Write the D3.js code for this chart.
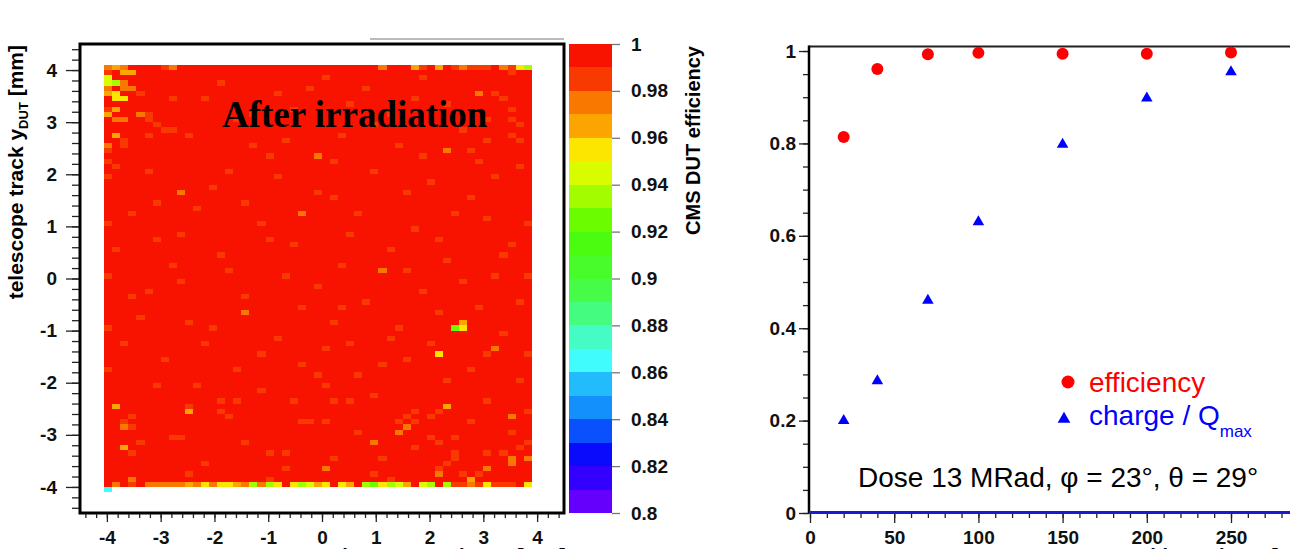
<!DOCTYPE html>
<html>
<head>
<meta charset="utf-8">
<script src="https://cdn.jsdelivr.net/npm/d3@7"></script>
<style>
body { margin: 0; background: #fff; }
svg text { font-family: 'Liberation Sans', Arial, sans-serif; }
</style>
</head>
<body>
<svg id="chart" width="1290" height="549"></svg>
<script>
// + -- Heat map binning (mm) ------------------------------------------------ +
const xBinLo = -4.05
const xBinW = 0.15
const xBinN = 53
const yBinLo = -4.0
const yBinW = 0.1
const yBinN = 81
const effDefault = 0.997

// cells that are not full red: [ix, iy, efficiency]
const effCells = [
  // top left corner
  [0, 80, 0.975], [1, 80, 0.965], [2, 80, 0.975], [7, 80, 0.985], [8, 80, 0.975],
  [0, 79, 0.985], [2, 79, 0.965], [3, 79, 0.965],
  [0, 78, 0.945], [0, 77, 0.945], [1, 77, 0.935], [2, 77, 0.975],
  [0, 76, 0.975], [2, 76, 0.975], [3, 76, 0.975],
  [0, 75, 0.965], [1, 75, 0.955], [4, 75, 0.985],
  [1, 74, 0.955], [2, 74, 0.955], [8, 74, 0.985],
  [0, 72, 0.985], [1, 72, 0.965], [0, 71, 0.965], [4, 71, 0.975], [5, 71, 0.985],
  [1, 70, 0.975], [2, 70, 0.975], [5, 70, 0.985], [6, 69, 0.985], [7, 68, 0.985], [8, 68, 0.985],
  [1, 67, 0.965], [5, 67, 0.985], [2, 66, 0.985], [0, 65, 0.975], [2, 65, 0.985],
  [0, 64, 0.985], [0, 62, 0.985], [1, 61, 0.985], [0, 59, 0.985],
  // top right corner
  [34, 80, 0.975], [38, 80, 0.965], [39, 80, 0.985], [41, 80, 0.965], [43, 80, 0.985],
  [44, 80, 0.975], [45, 80, 0.985], [46, 80, 0.985], [47, 80, 0.985], [49, 80, 0.975],
  [50, 80, 0.985], [51, 80, 0.955], [52, 80, 0.935],
  [50, 79, 0.985], [46, 75, 0.975], [48, 75, 0.985], [49, 74, 0.985], [38, 74, 0.985],
  [50, 72, 0.985], [50, 70, 0.985], [51, 69, 0.985], [50, 67, 0.985], [47, 66, 0.985],
  [51, 66, 0.985], [42, 64, 0.975], [46, 62, 0.985], [51, 61, 0.985],
  // bottom left
  [1, 15, 0.965], [10, 15, 0.985], [10, 14, 0.965], [14, 16, 0.985], [16, 16, 0.985],
  [23, 16, 0.985], [3, 13, 0.985], [15, 13, 0.985], [2, 12, 0.985], [2, 11, 0.975],
  [3, 11, 0.985], [8, 9, 0.985], [9, 9, 0.985], [4, 8, 0.985], [2, 7, 0.965],
  [3, 6, 0.985], [20, 6, 0.985], [22, 6, 0.985], [10, 2, 0.985], [3, 1, 0.975], [20, 1, 0.985],
  [1, 0, 0.975], [3, 0, 0.985], [5, 0, 0.975], [6, 0, 0.975], [7, 0, 0.975], [8, 0, 0.975],
  [9, 0, 0.975], [10, 0, 0.965], [11, 0, 0.975], [12, 0, 0.955], [13, 0, 0.975],
  [14, 0, 0.955], [15, 0, 0.955], [16, 0, 0.965], [17, 0, 0.975], [18, 0, 0.935],
  [19, 0, 0.975], [20, 0, 0.935], [21, 0, 0.955], [23, 0, 0.955],
  [0, -1, 0.865],
  // bottom right
  [28, 16, 0.985], [30, 16, 0.985], [47, 16, 0.985], [42, 15, 0.965], [38, 14, 0.985],
  [41, 14, 0.985], [52, 14, 0.985], [37, 13, 0.985], [40, 13, 0.985], [50, 13, 0.975],
  [27, 12, 0.985], [36, 12, 0.985], [38, 12, 0.985], [45, 12, 0.985], [24, 12, 0.985],
  [37, 11, 0.975], [36, 10, 0.975], [50, 10, 0.985], [40, 9, 0.985], [43, 9, 0.985],
  [33, 8, 0.975], [41, 8, 0.985], [52, 8, 0.985], [51, 7, 0.985], [43, 6, 0.985],
  [43, 5, 0.985], [47, 6, 0.985], [49, 6, 0.985], [50, 5, 0.975], [50, 4, 0.975],
  [52, 5, 0.975], [34, 5, 0.985], [42, 4, 0.985], [27, 3, 0.975], [41, 3, 0.985],
  [47, 3, 0.975], [41, 2, 0.975], [44, 2, 0.985], [46, 2, 0.985], [35, 1, 0.985], [45, 1, 0.965],
  [24, 0, 0.935], [25, 0, 0.945], [26, 0, 0.965], [27, 0, 0.955], [29, 0, 0.955],
  [30, 0, 0.965], [32, 0, 0.935], [33, 0, 0.925], [34, 0, 0.955], [35, 0, 0.935],
  [36, 0, 0.945], [37, 0, 0.965], [39, 0, 0.945], [40, 0, 0.935], [42, 0, 0.935],
  [43, 0, 0.985], [44, 0, 0.985], [45, 0, 0.975], [46, 0, 0.985], [47, 0, 0.955],
  [48, 0, 0.985], [49, 0, 0.985], [50, 0, 0.985], [52, 0, 0.955],
  // middle
  [43, 30, 0.925], [44, 30, 0.955], [44, 31, 0.965], [41, 25, 0.955], [48, 26, 0.975],
  [26, 63, 0.975], [9, 56, 0.975], [34, 41, 0.975], [17, 33, 0.975], [24, 52, 0.975],
  [12, 74, 0.985], [18, 71, 0.985], [25, 76, 0.985], [30, 73, 0.985], [33, 69, 0.985],
  [22, 66, 0.985], [15, 60, 0.985], [28, 62, 0.985], [36, 65, 0.985], [40, 58, 0.985],
  [45, 55, 0.985], [11, 53, 0.985], [19, 50, 0.985], [26, 56, 0.985], [31, 52, 0.985],
  [38, 49, 0.985], [47, 51, 0.985], [6, 47, 0.985], [14, 44, 0.985], [23, 46, 0.985],
  [29, 42, 0.985], [35, 45, 0.985], [42, 43, 0.985], [50, 46, 0.985], [9, 39, 0.985],
  [17, 36, 0.985], [26, 38, 0.985], [32, 35, 0.985], [39, 37, 0.985], [46, 34, 0.985],
  [4, 32, 0.985], [13, 30, 0.985], [21, 28, 0.985], [28, 31, 0.985], [35, 28, 0.985],
  [40, 27, 0.985], [49, 29, 0.985], [7, 24, 0.985], [16, 22, 0.985], [24, 23, 0.985],
  [31, 21, 0.985], [37, 24, 0.985], [45, 22, 0.985], [11, 19, 0.985], [19, 18, 0.985],
  [27, 19, 0.985], [33, 17, 0.985], [6, 54, 0.985], [44, 68, 0.985], [20, 63, 0.985],
  [37, 56, 0.985], [8, 42, 0.985], [24, 34, 0.985], [42, 20, 0.985], [30, 27, 0.985],
  [12, 27, 0.985], [48, 40, 0.985], [3, 36, 0.985], [52, 50, 0.985], [51, 35, 0.985],
  [0, 50, 0.985], [0, 40, 0.985], [0, 30, 0.985], [0, 22, 0.985], [1, 45, 0.985],
  [52, 40, 0.985], [52, 25, 0.985],
  [14, 77, 0.985], [21, 75, 0.985], [27, 78, 0.985], [32, 76, 0.985], [39, 78, 0.985],
  [16, 70, 0.985], [23, 72, 0.985], [35, 71, 0.985], [42, 73, 0.985], [47, 70, 0.985],
  [10, 67, 0.985], [18, 65, 0.985], [29, 67, 0.985], [39, 63, 0.985], [45, 64, 0.985],
  [5, 60, 0.985], [13, 57, 0.985], [21, 59, 0.985], [33, 60, 0.985], [48, 59, 0.985],
  [17, 54, 0.985], [28, 55, 0.985], [43, 52, 0.985], [3, 52, 0.985], [9, 48, 0.985],
  [20, 47, 0.985], [30, 48, 0.985], [41, 47, 0.985], [15, 41, 0.985], [22, 40, 0.985],
  [37, 41, 0.985], [44, 39, 0.985], [5, 37, 0.985], [29, 34, 0.985], [41, 33, 0.985],
  [10, 31, 0.985], [19, 25, 0.985], [27, 26, 0.985], [34, 23, 0.985], [47, 25, 0.985],
  [6, 19, 0.985], [14, 14, 0.985], [25, 12, 0.985], [31, 10, 0.985], [17, 8, 0.985],
  [28, 5, 0.985], [38, 7, 0.985], [12, 4, 0.985], [22, 3, 0.985], [33, 2, 0.985],
  [26, 21, 0.985], [36, 30, 0.985], [49, 44, 0.985], [2, 27, 0.985], [51, 20, 0.985]
]

// + -- Colour bar: one colour per 0.01 bin, 0.80 .. 1.00 ------------------- +
const zTicks = [0.8, 0.82, 0.84, 0.86, 0.88, 0.9, 0.92, 0.94, 0.96, 0.98, 1]
const zColors = [
  '#6400fc', '#3200fc', '#0a0afc', '#0a50fc', '#1490fc', '#22bcfc', '#40fcfc', '#44fcc4',
  '#44fc80', '#46fc48', '#48fc2c', '#4cfc10', '#6cfc00', '#a4fc00', '#d8fc00', '#fce600',
  '#fca400', '#f87800', '#f93a00', '#f81200'
]
const xTicksL = [-4, -3, -2, -1, 0, 1, 2, 3, 4]
const yTicksL = [-4, -3, -2, -1, 0, 1, 2, 3, 4]

// + -- Right panel ----------------------------------------------------------- +
const scanX = [20, 40, 70, 100, 150, 200, 250]
const efficiency = [0.814, 0.961, 0.993, 0.996, 0.994, 0.994, 0.997]
const chargeRatio = [0.200, 0.286, 0.460, 0.630, 0.798, 0.898, 0.955]
const xTicksR = [0, 50, 100, 150, 200, 250]
const yTicksR = [0, 0.2, 0.4, 0.6, 0.8, 1]

const svg = d3.select('#chart')
svg.append('rect').attr('width', 1290).attr('height', 549).attr('fill', '#fff')

const xL = d3.scaleLinear().domain([-4.5, 4.5]).range([80, 564])
const yL = d3.scaleLinear().domain([-4.5, 4.5]).range([513, 44])
const zS = d3.scaleLinear().domain([0.8, 1]).range([513, 44])
const zCol = d3.scaleQuantize().domain([0.8, 1]).range(zColors)

const fmt = d => String(+d.toFixed(2))

function styleAxis (g, size) {
  g.select('.domain').remove()
  g.attr('font-family', "'Liberation Sans', Arial, sans-serif")
    .attr('font-size', size)
    .attr('font-weight', 'bold')
  g.selectAll('line').attr('stroke', '#222').attr('stroke-width', 1.3)
  g.selectAll('text').attr('fill', '#111')
}

// + -- Heat map cells --------------------------------------------------------- +
let cellMap = {}
let cells = []
for (let iy = 0; iy < yBinN; iy++) {
  for (let ix = 0; ix < xBinN; ix++) {
    let c = {ix: ix, iy: iy, v: effDefault}
    cellMap[ix + '_' + iy] = c
    cells.push(c)
  }
}
effCells.forEach(([ix, iy, v]) => {
  let key = ix + '_' + iy
  if (cellMap[key]) cellMap[key].v = v
  else cells.push({ix: ix, iy: iy, v: v})
})

// snap bin edges to whole pixels so neighbouring cells meet without seams
const px = v => Math.round(v)
svg.append('g').attr('shape-rendering', 'crispEdges')
  .selectAll('rect')
  .data(cells)
  .join('rect')
  .attr('x', d => px(xL(xBinLo + d.ix * xBinW)))
  .attr('y', d => px(yL(yBinLo + (d.iy + 1) * yBinW)))
  .attr('width', d => px(xL(xBinLo + (d.ix + 1) * xBinW)) - px(xL(xBinLo + d.ix * xBinW)))
  .attr('height', d => px(yL(yBinLo + d.iy * yBinW)) - px(yL(yBinLo + (d.iy + 1) * yBinW)))
  .attr('fill', d => zCol(d.v))

// frame
svg.append('rect')
  .attr('x', xL(-4.5)).attr('y', yL(4.5))
  .attr('width', xL(4.5) - xL(-4.5)).attr('height', yL(-4.5) - yL(4.5))
  .attr('fill', 'none').attr('stroke', '#000').attr('stroke-width', 3)
svg.append('line')
  .attr('x1', 370).attr('x2', xL(4.5)).attr('y1', 39).attr('y2', 39)
  .attr('stroke', '#bbb').attr('stroke-width', 2)

// left axes, minor then major
svg.append('g').attr('transform', 'translate(' + (xL(-4.5) - 1) + ',0)')
  .call(d3.axisLeft(yL).tickValues(d3.range(-44, 45, 2).map(v => v / 10)).tickSize(7).tickFormat(''))
  .call(g => styleAxis(g, 19))
svg.append('g').attr('transform', 'translate(' + (xL(-4.5) - 1) + ',0)')
  .call(d3.axisLeft(yL).tickValues(yTicksL).tickSize(13).tickPadding(9).tickFormat(fmt))
  .call(g => styleAxis(g, 19))
svg.append('g').attr('transform', 'translate(0,' + (yL(-4.5) + 1) + ')')
  .call(d3.axisBottom(xL).tickValues(d3.range(-44, 45, 2).map(v => v / 10)).tickSize(4).tickFormat(''))
  .call(g => styleAxis(g, 19))
svg.append('g').attr('transform', 'translate(0,' + (yL(-4.5) + 1) + ')')
  .call(d3.axisBottom(xL).tickValues(xTicksL).tickSize(8).tickPadding(9).tickFormat(fmt))
  .call(g => styleAxis(g, 19))

svg.append('text')
  .attr('transform', 'translate(23,45) rotate(-90)')
  .attr('text-anchor', 'end')
  .attr('font-size', 21).attr('font-weight', 'bold')
  .call(t => {
    t.append('tspan').text('telescope track y')
    t.append('tspan').attr('font-size', 13).attr('dy', 5).text('DUT')
    t.append('tspan').attr('dy', -5).text(' [mm]')
  })
svg.append('text')
  .attr('x', xL(4.5) + 2).attr('y', 563)
  .attr('text-anchor', 'end')
  .attr('font-size', 20).attr('font-weight', 'bold')
  .call(t => {
    t.append('tspan').text('telescope track x')
    t.append('tspan').attr('font-size', 12).attr('dy', 5).text('DUT')
    t.append('tspan').attr('dy', -5).text(' [mm]')
  })

svg.append('text')
  .attr('x', 222).attr('y', 127)
  .style('font-family', "'Liberation Serif', 'Times New Roman', serif")
  .attr('font-size', 37).attr('font-weight', 'bold')
  .text('After irradiation')

// + -- Colour bar --------------------------------------------------------------- +
svg.append('g').attr('shape-rendering', 'crispEdges')
  .selectAll('rect')
  .data(zColors)
  .join('rect')
  .attr('x', 569)
  .attr('y', (d, i) => px(zS(0.8 + (i + 1) * 0.01)))
  .attr('width', 43)
  .attr('height', (d, i) => px(zS(0.8 + i * 0.01)) - px(zS(0.8 + (i + 1) * 0.01)))
  .attr('fill', d => d)
svg.append('g').attr('transform', 'translate(612,0)')
  .call(d3.axisRight(zS).tickValues(zTicks).tickSize(8).tickPadding(11).tickFormat(fmt))
  .call(g => styleAxis(g, 19))
  .call(g => g.selectAll('line').attr('stroke', '#777'))
svg.append('text')
  .attr('transform', 'translate(700,46) rotate(-90)')
  .attr('text-anchor', 'end')
  .attr('font-size', 20).attr('font-weight', 'bold')
  .text('CMS DUT efficiency')

// + -- Right panel -------------------------------------------------------------- +
const xR = d3.scaleLinear().domain([0, 290]).range([810, 810 + 290 * 1.684])
const yR = d3.scaleLinear().domain([0, 1.01]).range([513, 46.4])

svg.append('g').attr('transform', 'translate(809,0)')
  .call(d3.axisLeft(yR).tickValues(d3.range(0, 21).map(v => v / 20)).tickSize(6).tickFormat(''))
  .call(g => styleAxis(g, 19))
svg.append('g').attr('transform', 'translate(809,0)')
  .call(d3.axisLeft(yR).tickValues(yTicksR).tickSize(10).tickPadding(3).tickFormat(fmt))
  .call(g => styleAxis(g, 19))
svg.append('g').attr('transform', 'translate(0,513)')
  .call(d3.axisBottom(xR).tickValues(d3.range(0, 291, 10)).tickSize(5).tickFormat(''))
  .call(g => styleAxis(g, 19))
svg.append('g').attr('transform', 'translate(0,513)')
  .call(d3.axisBottom(xR).tickValues(xTicksR).tickSize(10).tickPadding(8).tickFormat(fmt))
  .call(g => styleAxis(g, 19))

svg.append('line')
  .attr('x1', 809).attr('x2', 1290).attr('y1', yR(1.01)).attr('y2', yR(1.01))
  .attr('stroke', '#222').attr('stroke-width', 2)
svg.append('line')
  .attr('x1', 809).attr('x2', 809).attr('y1', yR(1.01) - 1).attr('y2', 513)
  .attr('stroke', '#000').attr('stroke-width', 2.5)
svg.append('line')
  .attr('x1', 809).attr('x2', 1290).attr('y1', 512.5).attr('y2', 512.5)
  .attr('stroke', '#1a1ad0').attr('stroke-width', 3)
svg.append('text')
  .attr('x', 1298).attr('y', 563)
  .attr('text-anchor', 'end')
  .attr('font-size', 20).attr('font-weight', 'bold')
  .text('bias voltage [V]')

svg.append('g').selectAll('circle')
  .data(scanX)
  .join('circle')
  .attr('cx', d => xR(d))
  .attr('cy', (d, i) => yR(efficiency[i]))
  .attr('r', 6)
  .attr('fill', '#ff0000')
svg.append('g').selectAll('path')
  .data(scanX)
  .join('path')
  .attr('d', d3.symbol(d3.symbolTriangle, 58))
  .attr('transform', (d, i) => 'translate(' + xR(d) + ',' + yR(chargeRatio[i]) + ')')
  .attr('fill', '#0000ff')

// legend
svg.append('circle').attr('cx', 1068).attr('cy', 382).attr('r', 6.5).attr('fill', '#ff0000')
svg.append('text').attr('x', 1089).attr('y', 392)
  .attr('font-size', 28).attr('fill', '#ff0000').text('efficiency')
svg.append('path')
  .attr('d', d3.symbol(d3.symbolTriangle, 70))
  .attr('transform', 'translate(1064,419)')
  .attr('fill', '#0000ff')
svg.append('text').attr('x', 1089).attr('y', 425)
  .attr('font-size', 28).attr('fill', '#0000ff')
  .call(t => {
    t.append('tspan').text('charge / Q')
    t.append('tspan').attr('font-size', 17).attr('dy', 12).text('max')
  })
svg.append('text').attr('x', 858).attr('y', 487)
  .attr('font-size', 28).attr('fill', '#000')
  .text('Dose 13 MRad, φ = 23°, θ = 29°')
</script>
</body>
</html>
